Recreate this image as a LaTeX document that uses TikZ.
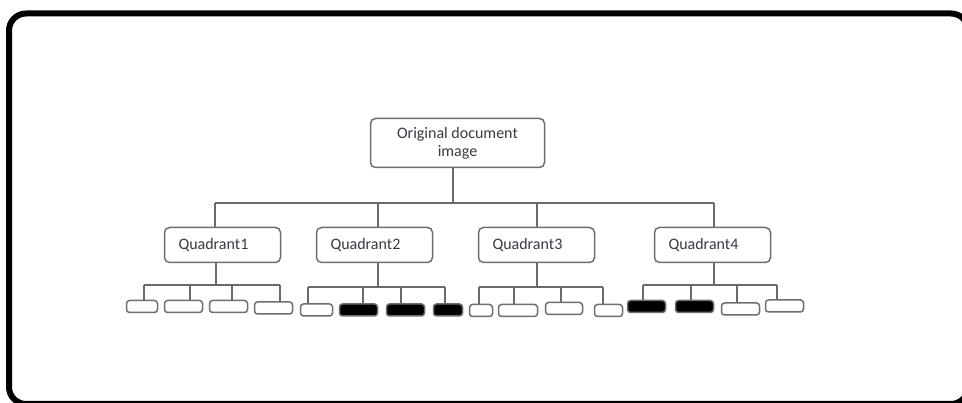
\documentclass[tikz,border=0pt]{standalone}
\usepackage{fontspec}
\setmainfont{Carlito}
\definecolor{boxgray}{HTML}{6E6E6E}
\definecolor{linegray}{HTML}{6A6A6A}
\definecolor{textgray}{HTML}{3A3A46}
\begin{document}
\begin{tikzpicture}[x=1pt,y=-1pt,
  box/.style={draw=boxgray, line width=1.5pt, rounded corners=5pt, fill=white},
  qbox/.style={box, txt, minimum height=35pt, text width=88pt, inner xsep=14pt, align=left},
  leaf/.style={draw=boxgray, line width=1.5pt, rounded corners=3pt, inner sep=0pt, minimum height=12pt},
  conn/.style={draw=linegray, line width=1.6pt},
  txt/.style={text=textgray, font=\fontsize{16}{18}\selectfont}]

\useasboundingbox (0,0) rectangle (962,403);
\clip (0,0) rectangle (962,403);
\fill[white] (0,0) rectangle (962,403);
\draw[line width=6pt, rounded corners=17pt] (9,13.5) rectangle (968,404);

% root
\node[box, txt, minimum width=174pt, minimum height=49pt, align=center] (root) at (457.5,143) {Original document\\image};

% quadrants
\node[qbox] (q1) at (222.5,245) {Quadrant1};
\node[qbox] (q2) at (374.5,245) {Quadrant2};
\node[qbox] (q3) at (536.5,245) {Quadrant3};
\node[qbox] (q4) at (712.5,245) {Quadrant4};

% main bus
\coordinate (b1) at (215,203);
\coordinate (b2) at (378,203);
\coordinate (b3) at (537,203);
\coordinate (b4) at (714,203);
\coordinate (rd) at (453,203);
\draw[conn] (root.south -| rd) -- (rd);
\draw[conn] (b1) -- (b4);
\foreach \k in {1,2,3,4} \draw[conn] (b\k) -- (b\k |- q\k.north);

% sub buses
\coordinate (s1) at (216,285);
\coordinate (s2) at (378,287);
\coordinate (s3) at (537,287);
\coordinate (s4) at (714,285);
\foreach \k in {1,2,3,4} \draw[conn] (q\k.south -| s\k) -- (s\k);

% leaves: name / x / y / width / fill / drop x / bus y
\foreach \n/\x/\y/\w/\f/\d/\b in {
  11/142/306.5/31/white/144/285, 12/183.5/306.5/38/white/190/285,
  13/228.5/306.5/38/white/232/285, 14/273.5/308/38/white/280/285,
  21/316.5/310/32/white/308/287, 22/358.5/310/38/black/363/287,
  23/405.5/310/38/black/401/287, 24/448/310/29/black/445/287,
  31/481/310.5/23/white/479/287, 32/518/310.5/39/white/514/287,
  33/564/308.5/37/white/561/287, 34/608.5/310.5/28/white/603/287,
  41/646.5/306.5/38/black/643/285, 42/694.5/306.5/38/black/691/285,
  43/740.5/309/38/white/737/285, 44/784.5/306/38/white/777/285}{
  \node[leaf, fill=\f, minimum width=\w pt] (l\n) at (\x,\y) {};
  \coordinate (d\n) at (\d,\b);
  \draw[conn] (d\n) -- (d\n |- l\n.north);
}
\draw[conn] (d11) -- (d14);
\draw[conn] (d21) -- (d24);
\draw[conn] (d31) -- (d34);
\draw[conn] (d41) -- (d44);
\end{tikzpicture}
\end{document}
